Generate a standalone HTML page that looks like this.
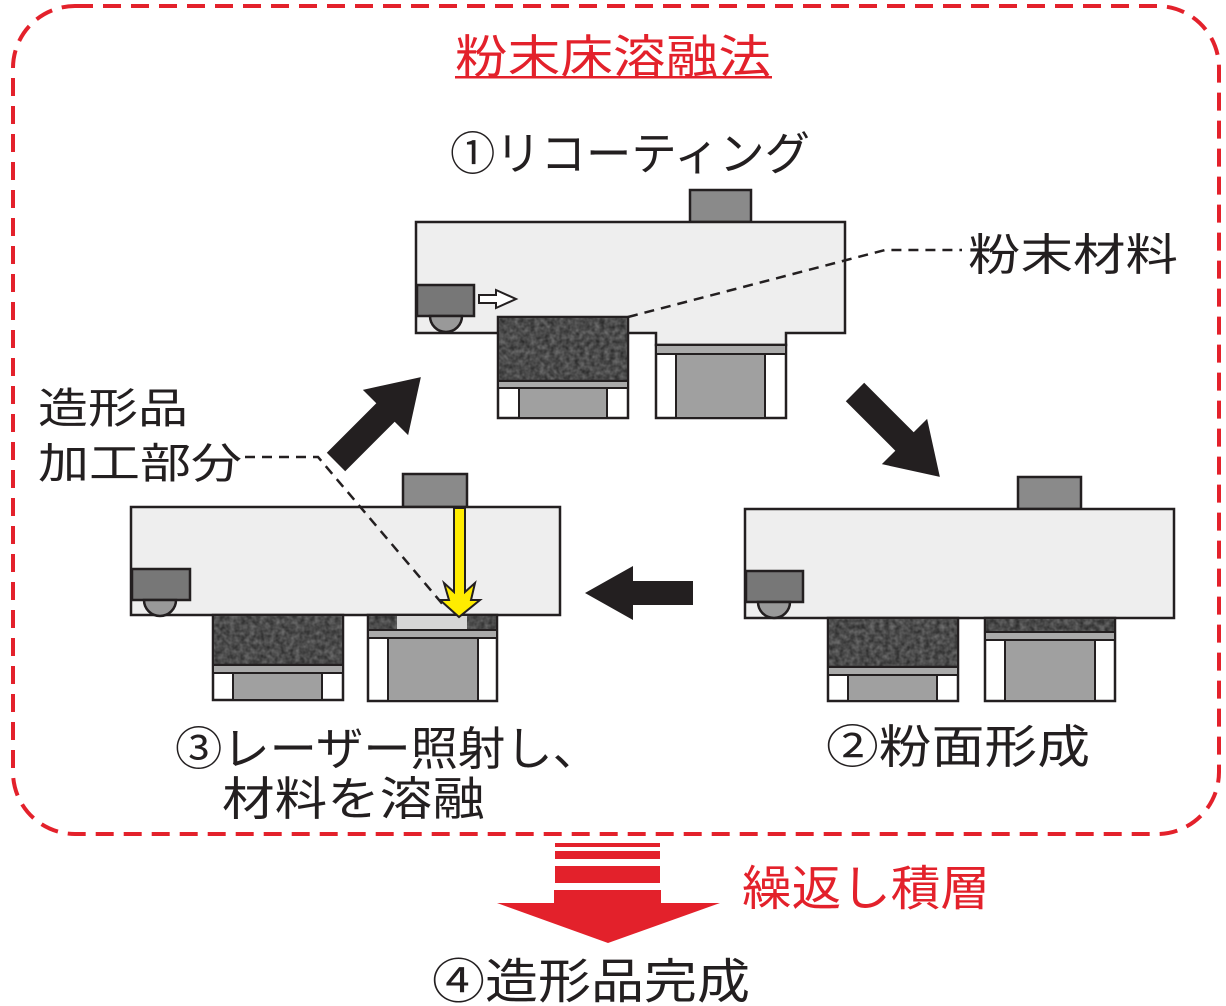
<!DOCTYPE html>
<html><head><meta charset="utf-8"><style>
html,body{margin:0;padding:0;background:#fff;}
svg{display:block}
text{font-family:"Liberation Sans","Noto Sans CJK JP",sans-serif;}
</style></head><body>
<svg width="1226" height="1006" viewBox="0 0 1226 1006" xmlns="http://www.w3.org/2000/svg">
<defs>
<filter id="noise" x="0" y="0" width="100%" height="100%" color-interpolation-filters="sRGB">
<feTurbulence type="fractalNoise" baseFrequency="0.2" numOctaves="2" seed="3"/>
<feColorMatrix type="matrix" values="0.35 0 0 0 0.12  0.35 0 0 0 0.12  0.35 0 0 0 0.12  0 0 0 0 1"/>
<feComposite in2="SourceGraphic" operator="in"/>
</filter>
</defs>
<rect x="13" y="6" width="1206" height="828" rx="62" fill="none" stroke="#e3212b" stroke-width="4" stroke-dasharray="18 10"/>

<text x="455" y="73" font-size="46" fill="#e3212b" textLength="316" lengthAdjust="spacingAndGlyphs">粉末床溶融法</text>
<rect x="455" y="76" width="317" height="2.5" fill="#e3212b"/>
<text x="450" y="170" font-size="46" fill="#231f20" textLength="360" lengthAdjust="spacingAndGlyphs">①リコーティング</text>

<rect x="690" y="190" width="61" height="32" fill="#8a8a8a" stroke="#231f20" stroke-width="2.5"/>
<path d="M416 222 H845 V333 H786 V345 H656 V333 H416 Z" fill="#eeeeee" stroke="#231f20" stroke-width="2.5"/>
<rect x="417" y="285" width="57" height="31" fill="#777" stroke="#231f20" stroke-width="2.5"/>
<path d="M430 316 A16 16 0 0 0 462 316 Z" fill="#999" stroke="#231f20" stroke-width="2.5"/>
<path d="M479 295 H496 V290 L516 299 L496 308 V303 H479 Z" fill="#fff" stroke="#231f20" stroke-width="2"/>
<rect x="498" y="317" width="130" height="101" fill="#fff" stroke="#231f20" stroke-width="2.5"/>
<rect x="499" y="318" width="128" height="63" fill="#4a4a4a"/>
<rect x="499" y="318" width="128" height="63" fill="#888" filter="url(#noise)"/>
<line x1="498" y1="381" x2="628" y2="381" stroke="#231f20" stroke-width="2.5"/>
<rect x="499" y="382" width="128" height="6" fill="#aaa"/>
<line x1="498" y1="388" x2="628" y2="388" stroke="#231f20" stroke-width="2"/>
<rect x="519" y="388" width="88" height="30" fill="#a0a0a0" stroke="#231f20" stroke-width="2"/>
<rect x="656" y="345" width="130" height="73" fill="#fff" stroke="#231f20" stroke-width="2.5"/>
<rect x="657" y="346" width="128" height="8" fill="#aaa"/>
<line x1="656" y1="354" x2="786" y2="354" stroke="#231f20" stroke-width="2"/>
<rect x="676" y="354" width="89" height="64" fill="#a0a0a0" stroke="#231f20" stroke-width="2"/>
<polyline points="628,317 885,250 962,250" fill="none" stroke="#231f20" stroke-width="2.5" stroke-dasharray="10 7"/>
<text x="968" y="270" font-size="44" fill="#231f20" textLength="210" lengthAdjust="spacingAndGlyphs">粉末材料</text>

<rect x="403" y="474" width="64" height="33" fill="#8a8a8a" stroke="#231f20" stroke-width="2.5"/>
<rect x="131" y="507" width="429" height="108" fill="#eeeeee" stroke="#231f20" stroke-width="2.5"/>
<rect x="132" y="569" width="58" height="31" fill="#777" stroke="#231f20" stroke-width="2.5"/>
<path d="M144 600 A16 16 0 0 0 176 600 Z" fill="#999" stroke="#231f20" stroke-width="2.5"/>
<rect x="213" y="615" width="130" height="85" fill="#fff" stroke="#231f20" stroke-width="2.5"/>
<rect x="214" y="616" width="128" height="49" fill="#4a4a4a"/>
<rect x="214" y="616" width="128" height="49" fill="#888" filter="url(#noise)"/>
<line x1="213" y1="665" x2="343" y2="665" stroke="#231f20" stroke-width="2.5"/>
<rect x="214" y="666" width="128" height="7" fill="#aaa"/>
<line x1="213" y1="673" x2="343" y2="673" stroke="#231f20" stroke-width="2"/>
<rect x="233" y="673" width="89" height="27" fill="#a0a0a0" stroke="#231f20" stroke-width="2"/>
<rect x="368" y="615" width="129" height="86" fill="#fff" stroke="#231f20" stroke-width="2.5"/>
<rect x="369" y="616" width="127" height="14" fill="#5a5a5a"/>
<rect x="369" y="616" width="127" height="14" fill="#888" filter="url(#noise)"/>
<rect x="397" y="616" width="70" height="14" fill="#d6d6d6"/>
<line x1="368" y1="630" x2="497" y2="630" stroke="#231f20" stroke-width="2"/>
<rect x="369" y="631" width="127" height="7" fill="#aaa"/>
<line x1="368" y1="638" x2="497" y2="638" stroke="#231f20" stroke-width="2"/>
<rect x="388" y="638" width="90" height="63" fill="#a0a0a0" stroke="#231f20" stroke-width="2"/>
<path d="M454 508 H465 V592 L475 583 L471 600 L480 600 L459 617 L440 600 L449 600 L444 583 L454 592 Z" fill="#ffec00" stroke="#231f20" stroke-width="2"/>
<polyline points="245,457 318,457 445,607" fill="none" stroke="#231f20" stroke-width="2.5" stroke-dasharray="10 7"/>
<text x="38" y="423" font-size="42" fill="#231f20" textLength="150" lengthAdjust="spacingAndGlyphs">造形品</text>
<text x="38" y="478" font-size="42" fill="#231f20" textLength="204" lengthAdjust="spacingAndGlyphs">加工部分</text>

<rect x="1018" y="477" width="63" height="32" fill="#8a8a8a" stroke="#231f20" stroke-width="2.5"/>
<rect x="745" y="509" width="429" height="109" fill="#eeeeee" stroke="#231f20" stroke-width="2.5"/>
<rect x="746" y="571" width="57" height="31" fill="#777" stroke="#231f20" stroke-width="2.5"/>
<path d="M758 602 A16 16 0 0 0 790 602 Z" fill="#999" stroke="#231f20" stroke-width="2.5"/>
<rect x="828" y="618" width="130" height="83" fill="#fff" stroke="#231f20" stroke-width="2.5"/>
<rect x="829" y="619" width="128" height="48" fill="#4a4a4a"/>
<rect x="829" y="619" width="128" height="48" fill="#888" filter="url(#noise)"/>
<line x1="828" y1="667" x2="958" y2="667" stroke="#231f20" stroke-width="2.5"/>
<rect x="829" y="668" width="128" height="7" fill="#aaa"/>
<line x1="828" y1="675" x2="958" y2="675" stroke="#231f20" stroke-width="2"/>
<rect x="848" y="675" width="89" height="26" fill="#a0a0a0" stroke="#231f20" stroke-width="2"/>
<rect x="985" y="618" width="130" height="83" fill="#fff" stroke="#231f20" stroke-width="2.5"/>
<rect x="986" y="619" width="128" height="13" fill="#5a5a5a"/>
<rect x="986" y="619" width="128" height="13" fill="#999" filter="url(#noise)"/>
<line x1="985" y1="632" x2="1115" y2="632" stroke="#231f20" stroke-width="2"/>
<rect x="986" y="633" width="128" height="7" fill="#aaa"/>
<line x1="985" y1="640" x2="1115" y2="640" stroke="#231f20" stroke-width="2"/>
<rect x="1005" y="640" width="90" height="61" fill="#a0a0a0" stroke="#231f20" stroke-width="2"/>

<g fill="#231f20">
<polygon points="0,-13 70,-13 70,-32 120,0 70,32 70,13 0,13" transform="translate(336,462) rotate(-45)"/>
<polygon points="0,-13 70,-13 70,-32 120,0 70,32 70,13 0,13" transform="translate(855,392) rotate(45)"/>
<polygon points="0,-12 60,-12 60,-27 108,0 60,27 60,12 0,12" transform="translate(693,593) rotate(180)"/>
</g>

<text x="175" y="765" font-size="46" fill="#231f20" textLength="425" lengthAdjust="spacingAndGlyphs">③レーザー照射し、</text>
<text x="222" y="815" font-size="46" fill="#231f20" textLength="263" lengthAdjust="spacingAndGlyphs">材料を溶融</text>
<text x="826" y="763" font-size="46" fill="#231f20" textLength="264" lengthAdjust="spacingAndGlyphs">②粉面形成</text>

<g fill="#e3212b">
<rect x="555" y="843" width="105" height="4"/>
<rect x="555" y="851" width="105" height="8"/>
<rect x="555" y="866" width="105" height="17"/>
<rect x="554" y="890" width="107" height="14"/>
<polygon points="497,903 720,903 608,943"/>
</g>
<text x="742" y="905" font-size="48" fill="#e3212b" textLength="248" lengthAdjust="spacingAndGlyphs">繰返し積層</text>
<text x="432" y="998" font-size="48" fill="#231f20" textLength="318" lengthAdjust="spacingAndGlyphs">④造形品完成</text>
</svg>
</body></html>
